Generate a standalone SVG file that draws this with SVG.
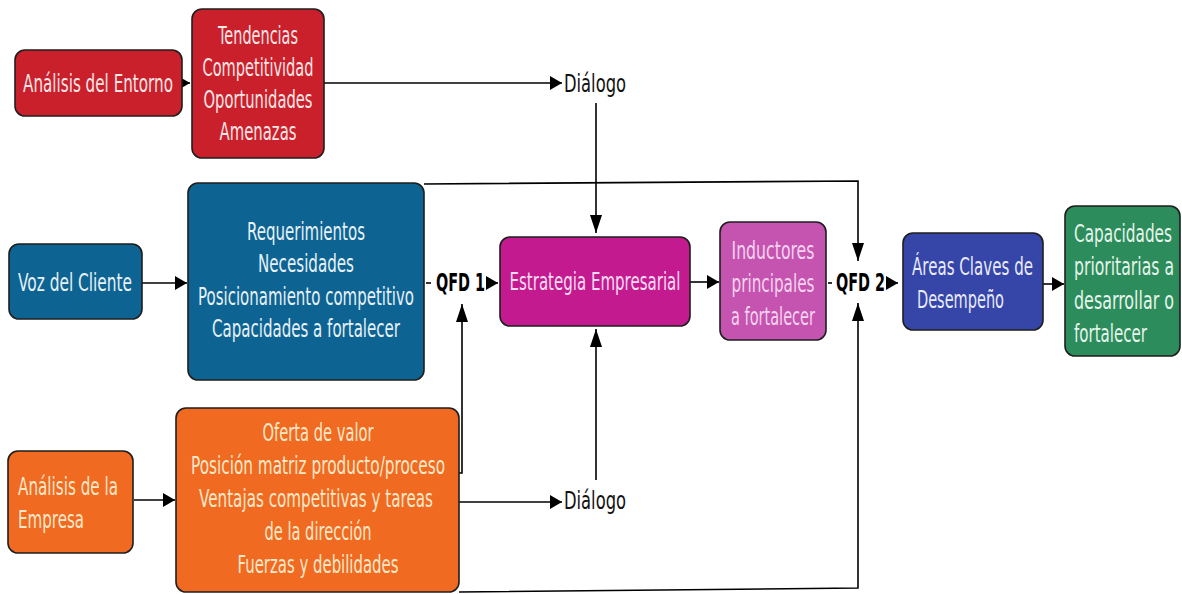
<svg xmlns="http://www.w3.org/2000/svg" width="1182" height="594" viewBox="0 0 1182 594">
  <defs>
    <!-- horizontal arrowhead (short, tall) -->
    <marker id="ah" markerUnits="userSpaceOnUse" markerWidth="12" markerHeight="14" refX="12" refY="7" orient="auto">
      <path d="M0,0 L12,7 L0,14 Z" fill="#000"/>
    </marker>
    <!-- vertical arrowhead (long, narrow) -->
    <marker id="av" markerUnits="userSpaceOnUse" markerWidth="18" markerHeight="12" refX="18" refY="6" orient="auto">
      <path d="M0,0 L18,6 L0,12 Z" fill="#000"/>
    </marker>
    <style>
      .box { stroke: #1e1e1e; stroke-width: 1.6; }
      .red { fill: #c9202c; }
      .blue { fill: #0d6492; }
      .mag { fill: #c41a90; }
      .orch { fill: #c554b1; }
      .indigo { fill: #3545a8; }
      .green { fill: #2c8c5b; }
      .orange { fill: #f06a21; }
      text { font-family: "DejaVu Sans", "Liberation Sans", sans-serif; font-size: 24px; }
      .c { text-anchor: middle; }
      .tr { fill: #fbe6e6; }
      .tb { fill: #e8f1f8; }
      .tm { fill: #f9dcf0; }
      .to { fill: #f5d3ee; }
      .ti { fill: #e9ebfa; }
      .tg { fill: #e6f5ec; }
      .tor { fill: #fce8c8; }
      .tk { fill: #111; }
      .qfd { fill: #000; font-weight: bold; font-size: 24px; }
      .ln { fill: none; stroke: #000; stroke-width: 1.6; }
    </style>
  </defs>

  <rect width="1182" height="594" fill="#fff"/>

  <!-- connectors -->
  <g id="connectors">
    <path class="ln" d="M180,83 H190" marker-end="url(#ah)"/>
    <path class="ln" d="M324,83 H562" marker-end="url(#ah)"/>
    <path class="ln" d="M596,103 V233" marker-end="url(#av)"/>
    <path class="ln" d="M142,283 H187" marker-end="url(#ah)"/>
    <path class="ln" d="M424,184 L858,181 V261" marker-end="url(#av)"/>
    <path class="ln" d="M426,283 H431"/>
    <path class="ln" d="M487,283 H498" marker-end="url(#ah)"/>
    <path class="ln" d="M459,473 H462 V304" marker-end="url(#av)"/>
    <path class="ln" d="M459,502 H562" marker-end="url(#ah)"/>
    <path class="ln" d="M596,480 V329" marker-end="url(#av)"/>
    <path class="ln" d="M690,282 H719" marker-end="url(#ah)"/>
    <path class="ln" d="M828,283 H832"/>
    <path class="ln" d="M887,283 H898" marker-end="url(#ah)"/>
    <path class="ln" d="M459,592 L858,588 V303" marker-end="url(#av)"/>
    <path class="ln" d="M1043,284 H1064" marker-end="url(#ah)"/>
    <path class="ln" d="M134,500 H175" marker-end="url(#ah)"/>
  </g>

  <!-- free labels -->
  <g id="dialogo-top">
    <text class="tk" x="564" y="92" textLength="62" lengthAdjust="spacingAndGlyphs">Diálogo</text>
  </g>
  <g id="dialogo-bottom">
    <text class="tk" x="564" y="509" textLength="62" lengthAdjust="spacingAndGlyphs">Diálogo</text>
  </g>
  <g id="qfd1">
    <text class="qfd" x="436" y="291" textLength="49" lengthAdjust="spacingAndGlyphs">QFD 1</text>
  </g>
  <g id="qfd2">
    <text class="qfd" x="836" y="291" textLength="49" lengthAdjust="spacingAndGlyphs">QFD 2</text>
  </g>

  <!-- top row -->
  <g id="analisis-entorno">
    <rect class="box red" x="15" y="50" width="167" height="66" rx="10"/>
    <text class="c tr" x="98" y="92" textLength="150" lengthAdjust="spacingAndGlyphs">Análisis del Entorno</text>
  </g>
  <g id="tendencias">
    <rect class="box red" x="192" y="9" width="132" height="149" rx="10"/>
    <text class="c tr" x="258" y="44" textLength="80" lengthAdjust="spacingAndGlyphs">Tendencias</text>
    <text class="c tr" x="258" y="76" textLength="111" lengthAdjust="spacingAndGlyphs">Competitividad</text>
    <text class="c tr" x="258" y="108" textLength="109" lengthAdjust="spacingAndGlyphs">Oportunidades</text>
    <text class="c tr" x="258" y="140" textLength="77" lengthAdjust="spacingAndGlyphs">Amenazas</text>
  </g>

  <!-- middle row -->
  <g id="voz-cliente">
    <rect class="box blue" x="9" y="244" width="133" height="75" rx="10"/>
    <text class="c tb" x="75" y="291" textLength="114" lengthAdjust="spacingAndGlyphs">Voz del Cliente</text>
  </g>
  <g id="requerimientos">
    <rect class="box blue" x="188" y="183" width="236" height="197" rx="10"/>
    <text class="c tb" x="306" y="240" textLength="118" lengthAdjust="spacingAndGlyphs">Requerimientos</text>
    <text class="c tb" x="306" y="272" textLength="96" lengthAdjust="spacingAndGlyphs">Necesidades</text>
    <text class="c tb" x="306" y="305" textLength="216" lengthAdjust="spacingAndGlyphs">Posicionamiento competitivo</text>
    <text class="c tb" x="306" y="337" textLength="188" lengthAdjust="spacingAndGlyphs">Capacidades a fortalecer</text>
  </g>
  <g id="estrategia">
    <rect class="box mag" x="500" y="237" width="190" height="89" rx="10"/>
    <text class="c tm" x="595" y="290" textLength="171" lengthAdjust="spacingAndGlyphs">Estrategia Empresarial</text>
  </g>
  <g id="inductores">
    <rect class="box orch" x="720" y="222" width="106" height="118" rx="10"/>
    <text class="c to" x="773" y="259" textLength="83" lengthAdjust="spacingAndGlyphs">Inductores</text>
    <text class="c to" x="773" y="292" textLength="83" lengthAdjust="spacingAndGlyphs">principales</text>
    <text class="c to" x="773" y="325" textLength="84" lengthAdjust="spacingAndGlyphs">a fortalecer</text>
  </g>
  <g id="areas-claves">
    <rect class="box indigo" x="903" y="233" width="140" height="97" rx="10"/>
    <text class="ti" x="912" y="275" textLength="121" lengthAdjust="spacingAndGlyphs">Áreas Claves de</text>
    <text class="ti" x="917" y="308" textLength="87" lengthAdjust="spacingAndGlyphs">Desempeño</text>
  </g>
  <g id="capacidades-prioritarias">
    <rect class="box green" x="1065" y="206" width="115" height="150" rx="10"/>
    <text class="tg" x="1074" y="242" textLength="98" lengthAdjust="spacingAndGlyphs">Capacidades</text>
    <text class="tg" x="1074" y="275" textLength="100" lengthAdjust="spacingAndGlyphs">prioritarias a</text>
    <text class="tg" x="1074" y="309" textLength="100" lengthAdjust="spacingAndGlyphs">desarrollar o</text>
    <text class="tg" x="1074" y="342" textLength="73" lengthAdjust="spacingAndGlyphs">fortalecer</text>
  </g>

  <!-- bottom row -->
  <g id="analisis-empresa">
    <rect class="box orange" x="8" y="451" width="125" height="102" rx="10"/>
    <text class="tor" x="18" y="495" textLength="100" lengthAdjust="spacingAndGlyphs">Análisis de la</text>
    <text class="tor" x="18" y="528" textLength="66" lengthAdjust="spacingAndGlyphs">Empresa</text>
  </g>
  <g id="oferta">
    <rect class="box orange" x="176" y="408" width="283" height="184" rx="10"/>
    <text class="c tor" x="318" y="441" textLength="111" lengthAdjust="spacingAndGlyphs">Oferta de valor</text>
    <text class="c tor" x="318" y="474" textLength="254" lengthAdjust="spacingAndGlyphs">Posición matriz producto/proceso</text>
    <text class="c tor" x="316" y="507" textLength="234" lengthAdjust="spacingAndGlyphs">Ventajas competitivas y tareas</text>
    <text class="c tor" x="318" y="540" textLength="107" lengthAdjust="spacingAndGlyphs">de la dirección</text>
    <text class="c tor" x="318" y="573" textLength="161" lengthAdjust="spacingAndGlyphs">Fuerzas y debilidades</text>
  </g>
</svg>
